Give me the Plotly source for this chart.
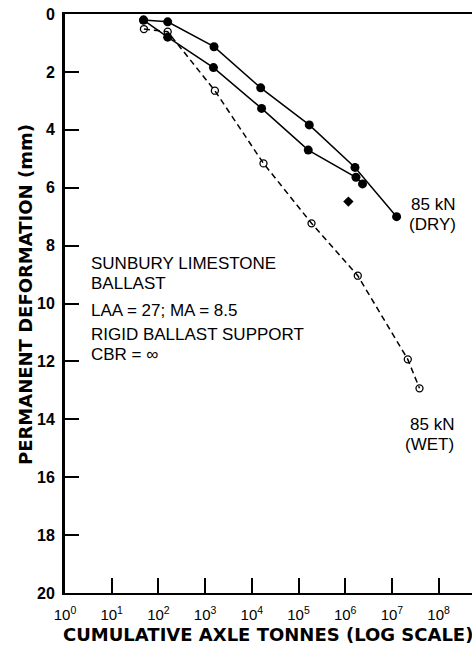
import plotly.graph_objects as go

dry_a_x = [48, 158, 1550, 15500, 170000, 1.62e6, 1.26e7]
dry_a_y = [0.21, 0.27, 1.13, 2.55, 3.83, 5.30, 7.00]

dry_b_x = [48, 158, 1510, 16200, 162000, 1.70e6, 2.35e6]
dry_b_y = [0.21, 0.80, 1.85, 3.26, 4.70, 5.64, 5.87]

stray_x = [1.17e6]
stray_y = [6.48]

wet_x = [49, 158, 1620, 17800, 190000, 1.86e6, 2.19e7, 3.9e7]
wet_y = [0.52, 0.61, 2.65, 5.16, 7.23, 9.04, 11.93, 12.93]

x_tick_exps = [0, 1, 2, 3, 4, 5, 6, 7, 8]
y_ticks = [0, 2, 4, 6, 8, 10, 12, 14, 16, 18, 20]

fig = go.Figure()

fig.add_trace(go.Scatter(
    x=dry_a_x, y=dry_a_y, mode="lines+markers",
    line=dict(color="black", width=1.5),
    marker=dict(symbol="circle", size=9, color="black"),
    cliponaxis=False, showlegend=False))

fig.add_trace(go.Scatter(
    x=dry_b_x, y=dry_b_y, mode="lines+markers",
    line=dict(color="black", width=1.5),
    marker=dict(symbol="circle", size=9, color="black"),
    cliponaxis=False, showlegend=False))

fig.add_trace(go.Scatter(
    x=stray_x, y=stray_y, mode="markers",
    marker=dict(symbol="diamond", size=8, color="black"),
    showlegend=False))

fig.add_trace(go.Scatter(
    x=wet_x, y=wet_y, mode="lines+markers",
    line=dict(color="black", width=1.5, dash="6px,4px"),
    marker=dict(symbol="circle-open", size=7, color="black", line=dict(width=1.3)),
    cliponaxis=False, showlegend=False))

W, H = 472, 649
L, R, T, B = 65, 0, 14, 56
xdec = 46.7
x_max = (W - L - R) / xdec

def px_to_x(px):
    return (px - L) / xdec

def py_to_y(py):
    return (py - T) / ((H - T - B) / 20.0)

text_font = dict(family="Liberation Sans, Arial", size=17, color="black")
notes = [
    ("SUNBURY LIMESTONE", 90, 263, "left"),
    ("BALLAST", 90, 283, "left"),
    ("LAA = 27; MA = 8.5", 90, 310, "left"),
    ("RIGID BALLAST SUPPORT", 90, 334, "left"),
    ("CBR = ∞", 90, 354, "left"),
    ("85 kN", 433, 204, "center"),
    ("(DRY)", 432, 224, "center"),
    ("85 kN", 432, 424, "center"),
    ("(WET)", 429, 444, "center"),
]
for txt, px, py, anchor in notes:
    fig.add_annotation(x=px_to_x(px), y=py_to_y(py), xref="x", yref="y",
                       text=txt, showarrow=False, xanchor=anchor, yanchor="middle",
                       font=text_font, borderpad=0)

pw = W - L - R
ph = H - T - B
fig.add_annotation(x=(25 - L) / pw, y=(T + ph - 295) / ph, xref="paper", yref="paper",
                   text="<b>PERMANENT DEFORMATION (mm)</b>", textangle=-90,
                   showarrow=False, xanchor="center", yanchor="middle",
                   font=dict(family="DejaVu Sans", size=18, color="black"))
fig.add_annotation(x=(268 - L) / pw, y=(T + ph - 634) / ph, xref="paper", yref="paper",
                   text="<b>CUMULATIVE AXLE TONNES (LOG SCALE)</b>",
                   showarrow=False, xanchor="center", yanchor="middle",
                   font=dict(family="DejaVu Sans", size=18, color="black"))

fig.update_layout(
    width=W, height=H,
    margin=dict(l=L, r=R, t=T, b=B, pad=0),
    paper_bgcolor="white", plot_bgcolor="white",
    xaxis=dict(
        type="log", range=[0, x_max],
        tickvals=[10 ** e for e in x_tick_exps],
        ticktext=["10<sup>%d</sup>" % e for e in x_tick_exps],
        ticks="inside", ticklen=15, tickwidth=1.5, tickcolor="black",
        showline=True, linecolor="black", linewidth=2, mirror=True,
        showgrid=False, zeroline=False,
        tickfont=dict(family="Liberation Sans, Arial", size=15, color="black"),
        ticklabelstandoff=7,
    ),
    yaxis=dict(
        range=[20, 0],
        tickvals=y_ticks,
        ticks="inside", ticklen=14, tickwidth=1.5, tickcolor="black",
        showline=True, linecolor="black", linewidth=3,
        showgrid=False, zeroline=False,
        tickfont=dict(family="Liberation Sans, Arial", size=16, color="black", weight="bold"),
        ticklabelstandoff=4,
    ),
)

fig.write_html(
    "out.html",
    config={"displayModeBar": False},
    post_script="document.body.style.margin='0';document.body.style.overflow='hidden';",
)
